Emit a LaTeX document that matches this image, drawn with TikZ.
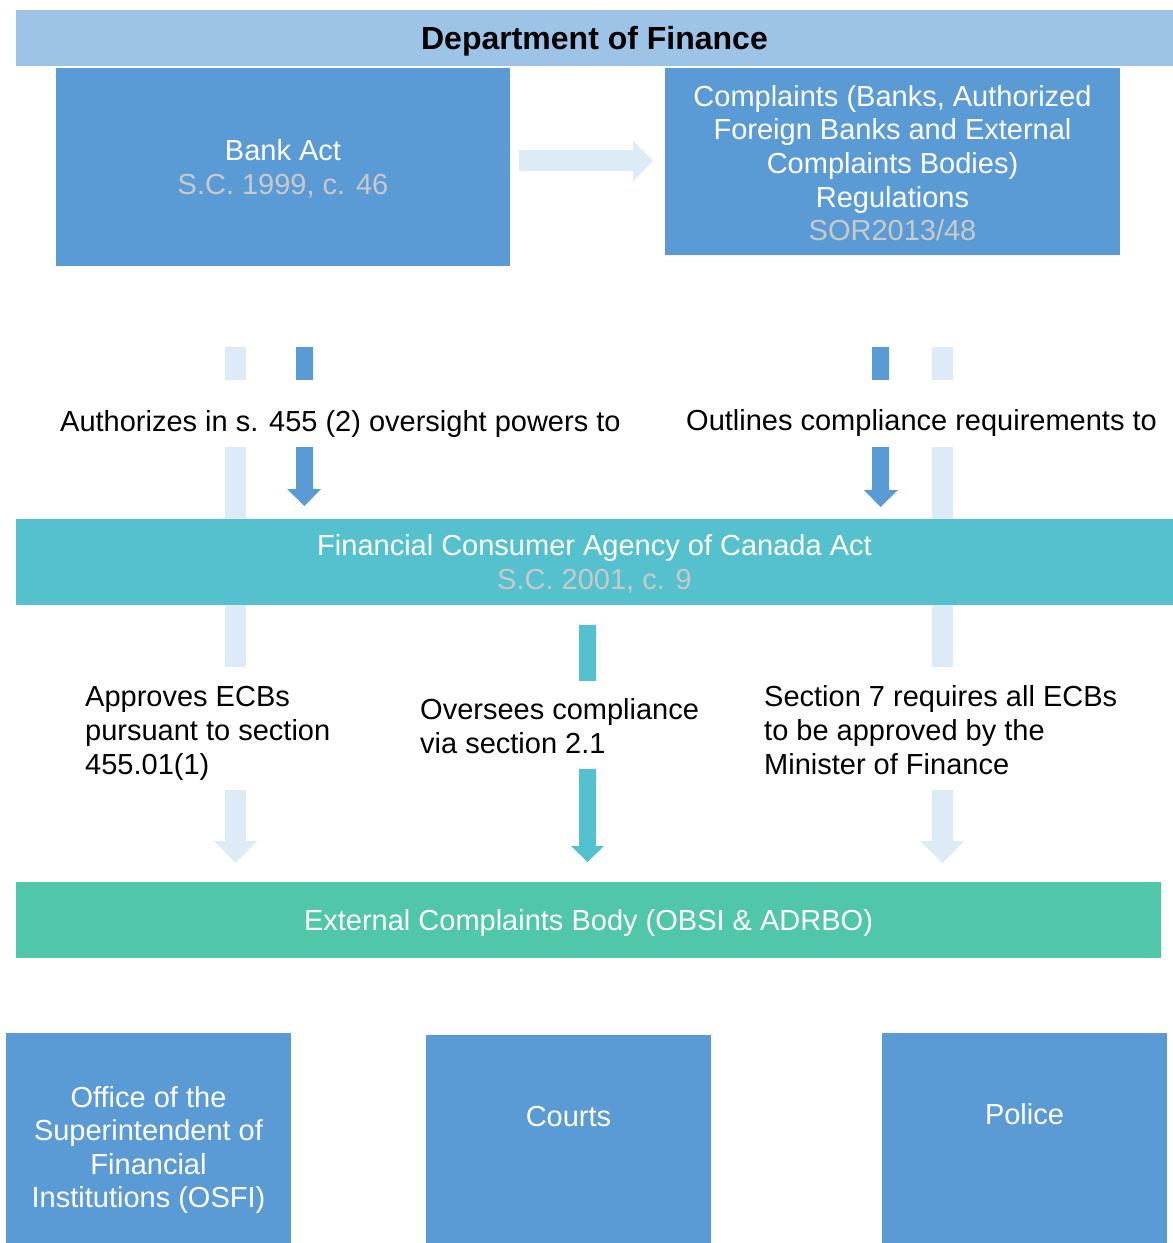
\documentclass[tikz,border=0pt]{standalone}
\usepackage{fontspec}
\setmainfont{Liberation Sans}
\definecolor{topbar}{HTML}{9DC3E6}
\definecolor{boxblue}{HTML}{5B9BD5}
\definecolor{lightarr}{HTML}{DDEBF7}
\definecolor{fcacteal}{HTML}{55C1CF}
\definecolor{ecbgreen}{HTML}{50C7A8}
\definecolor{subgrey}{HTML}{C9C9C9}
\newcommand\blockdown[8]{%
  \fill[#8] (#1,#3) -- (#2,#3) -- (#2,#6) -- (#5,#6) -- ({(#1+#2)/2},#7) -- (#4,#6) -- (#1,#6) -- cycle;}
\begin{document}
\begin{tikzpicture}[x=1pt,y=-1pt,
  bigfont/.style={font=\fontsize{29}{33.6}\selectfont},
  box/.style={fill=boxblue, text=white, inner sep=0pt, align=center, text depth=0pt, bigfont},
  band/.style={inner sep=0pt, align=center, text depth=0pt, bigfont},
  boxtext/.style={text=white, inner sep=0pt, align=center, text depth=0pt, bigfont},
  lbl/.style={text=black, align=left, inner sep=0pt, anchor=west, text depth=0pt, font=\fontsize{29}{34}\selectfont},
  gap/.style={fill=white}]
\useasboundingbox (0,0) rectangle (1173,1243);
\fill[white] (0,0) rectangle (1173,1243);

% top bar
\node[band, fill=topbar, minimum width=1157pt, minimum height=56pt, font=\bfseries\fontsize{32}{36}\selectfont] (dof) at (594.5,38) {Department of Finance};

% acts
\node[box, minimum width=454pt, minimum height=198pt] (bank) at (283,167) {Bank Act\\[1pt]\textcolor{subgrey}{S.C. 1999, c. 46}};
\node[box, minimum width=455pt, minimum height=187pt] (regs) at (892.5,161.5) {\rule{0pt}{24pt}Complaints (Banks, Authorized\\Foreign Banks and External\\Complaints Bodies)\\Regulations\\\textcolor{subgrey}{SOR2013/48}};

% horizontal block arrow
\fill[lightarr] (519,150) -- (633,150) -- (633,141) -- (653,161) -- (633,181) -- (633,171) -- (519,171) -- cycle;

% long light arrows (behind FCAC box)
\blockdown{225}{246}{347}{214}{257}{841}{863}{lightarr}
\blockdown{932}{953}{347}{920}{964}{841}{863}{lightarr}
% dark arrows
\blockdown{296}{313}{347}{287}{321}{489}{506}{boxblue}
\blockdown{872}{889}{347}{864}{898}{490}{507}{boxblue}
% teal arrow
\blockdown{579}{596}{625}{571}{604}{846}{862}{fcacteal}

% white gaps where labels sit
\fill[gap] (200,380) rectangle (335,447);
\fill[gap] (850,380) rectangle (975,447);
\fill[gap] (200,667) rectangle (270,790);
\fill[gap] (560,681) rectangle (615,769);
\fill[gap] (910,667) rectangle (980,790);

% FCAC
\node[band, fill=fcacteal, text=white, minimum width=1157pt, minimum height=86pt] (fcac) at (594.5,562) {Financial Consumer Agency of Canada Act\\\textcolor{subgrey}{S.C. 2001, c. 9}};

% labels
\node[lbl] (l1) at (60,421) {Authorizes in s. 455 (2) oversight powers to};
\node[lbl] (l2) at (686,420) {Outlines compliance requirements to};
\node[lbl] (l3) at (85,730) {Approves ECBs\\pursuant to section\\455.01(1)};
\node[lbl] (l4) at (420,726) {Oversees compliance\\via section 2.1};
\node[lbl] (l5) at (764,730) {Section 7 requires all ECBs\\to be approved by the\\Minister of Finance};

% ECB
\node[band, fill=ecbgreen, text=white, minimum width=1145pt, minimum height=76pt] (ecb) at (588.5,920) {External Complaints Body (OBSI \& ADRBO)};

% bottom boxes
\node[box, minimum width=285pt, minimum height=210pt, anchor=north] (osfi) at (148.5,1033) {};
\node[box, minimum width=285pt, minimum height=208pt, anchor=north] (courts) at (568.5,1035) {};
\node[box, minimum width=285pt, minimum height=210pt, anchor=north] (police) at (1024.5,1033) {};
\node[boxtext] (osfit) at (148.5,1147) {Office of the\\Superintendent of\\Financial\\Institutions (OSFI)};
\node[boxtext] (courtst) at (568.5,1116) {Courts};
\node[boxtext] (policet) at (1024.5,1114) {Police};
\end{tikzpicture}
\end{document}
